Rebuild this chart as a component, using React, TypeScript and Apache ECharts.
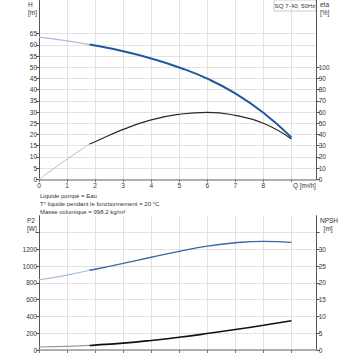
import React, { useEffect, useRef } from "react";
import * as echarts from "echarts";

const qValues = [0, 1, 1.8, 2, 3, 4, 5, 6, 7, 8, 9];
const headValues = [63.4, 61.8, 60.1, 59.7, 57.1, 53.9, 49.9, 44.9, 38.3, 29.7, 18.7];
const etaValues = [0, 18, 31.5, 33.5, 44.5, 53, 58, 59.8, 57, 50, 36];
const p2Values = [835, 893, 950, 962, 1032, 1105, 1175, 1238, 1278, 1295, 1283];
const npshValues = [0.9, 1.05, 1.35, 1.45, 2.05, 2.85, 3.8, 4.9, 6.1, 7.35, 8.7];
const SPLIT = 2; // index where curve turns from light to dark

const hTicks = [0, 5, 10, 15, 20, 25, 30, 35, 40, 45, 50, 55, 60, 65];
const etaTicks = [0, 10, 20, 30, 40, 50, 60, 70, 80, 90, 100];
const p2Ticks = [0, 200, 400, 600, 800, 1000, 1200, 1400];
const p2Labels = [0, 200, 400, 600, 800, 1000, 1200];
const npshTicks = [0, 5, 10, 15, 20, 25, 30, 35];
const npshLabels = [0, 5, 10, 15, 20, 25, 30];
const qLabels = [0, 1, 2, 3, 4, 5, 6, 7, 8];

const infoLines = [
  "Liquide pompé = Eau",
  "T° liquide pendant le fonctionnement = 20 °C",
  "Masse volumique = 998.2 kg/m³",
];

const FONT = "Liberation Sans, Arial, sans-serif";
const TXT = "#333";

function pairs(ys: number[], from: number, to: number) {
  const out: number[][] = [];
  for (let i = from; i <= to; i++) out.push([qValues[i], ys[i]]);
  return out;
}

export default function App() {
  const ref = useRef<HTMLDivElement>(null);
  useEffect(() => {
    if (!ref.current) return;
    const chart = echarts.init(ref.current, undefined, { renderer: "svg" });
    const last = qValues.length - 1;
    const xBase = (idx: number, showLabels: boolean) => ({
      type: "value",
      gridIndex: idx,
      min: 0,
      max: 9.9,
      interval: 1,
      axisLine: { show: true, onZero: false, lineStyle: { color: "#999", width: 1.5 } },
      axisTick: { show: true, length: 3, lineStyle: { color: "#777" }, customValues: [0, 1, 2, 3, 4, 5, 6, 7, 8, 9] },
      axisLabel: {
        show: showLabels,
        fontSize: 6.5,
        color: TXT,
        fontFamily: FONT,
        margin: 3,
        customValues: qLabels,
        formatter: (v: number) => (Number.isInteger(v) && v <= 8 ? String(v) : ""),
      },
      splitLine: { show: true, lineStyle: { color: "#e2e2e2", width: 1 } },
    });
    const yBase = (
      idx: number,
      pos: "left" | "right",
      max: number,
      interval: number,
      ticks: number[],
      labels: number[],
      split: boolean
    ) => ({
      type: "value",
      gridIndex: idx,
      position: pos,
      min: 0,
      max,
      interval,
      axisLine: { show: true, lineStyle: { color: "#555", width: 1 } },
      axisTick: { show: true, length: 3, lineStyle: { color: "#555" }, customValues: ticks },
      axisLabel: {
        fontSize: 6.5,
        color: TXT,
        fontFamily: FONT,
        margin: 2,
        customValues: labels,
        formatter: (v: number) => (labels.indexOf(v) >= 0 ? String(v) : ""),
      },
      splitLine: { show: split, lineStyle: { color: "#e2e2e2", width: 1 } },
    });

    const line = (
      xi: number,
      yi: number,
      data: number[][],
      color: string,
      width: number,
      z: number
    ) => ({
      type: "line",
      xAxisIndex: xi,
      yAxisIndex: yi,
      data,
      smooth: true,
      symbol: "none",
      z,
      lineStyle: { color, width },
    });

    const graphics: any[] = [
      { type: "text", left: 28, top: 0, style: { text: "H\n[m]", fontSize: 6.5, fill: TXT, fontFamily: FONT, align: "center", lineHeight: 8 } },
      { type: "text", left: 320, top: 0, style: { text: "eta\n[%]", fontSize: 6.5, fill: TXT, fontFamily: FONT, lineHeight: 8 } },
      { type: "text", left: 27, top: 216, style: { text: "P2\n[W]", fontSize: 6.5, fill: TXT, fontFamily: FONT, align: "center", lineHeight: 8 } },
      { type: "text", left: 320, top: 216, style: { text: "NPSH\n  [m]", fontSize: 6.5, fill: TXT, fontFamily: FONT, lineHeight: 8 } },
      { type: "text", x: 293, y: 185, style: { text: "Q [m³/h]", fontSize: 6.3, fill: TXT, fontFamily: FONT, verticalAlign: "middle" } },
      {
        type: "group",
        x: 274,
        y: 0,
        children: [
          { type: "rect", shape: { x: 0, y: 0, width: 42, height: 11 }, style: { fill: "#fff", stroke: "#ccc", lineWidth: 1 } },
          { type: "text", x: 21, y: 5.5, style: { text: "SQ 7-40, 50Hz", fontSize: 6.2, fill: TXT, fontFamily: FONT, align: "center", verticalAlign: "middle" } },
        ],
      },
    ];
    infoLines.forEach((t, i) => {
      graphics.push({
        type: "text",
        x: 40,
        y: 196 + i * 8,
        style: { text: t, fontSize: 6, fill: TXT, fontFamily: FONT, verticalAlign: "middle" },
      });
    });

    chart.setOption({
      animation: false,
      backgroundColor: "#fff",
      grid: [
        { left: 39, right: 43.3, top: 0, height: 179.3 },
        { left: 39, right: 43.3, top: 215.7, height: 134.3 },
      ],
      xAxis: [xBase(0, true), xBase(1, false)],
      yAxis: [
        yBase(0, "left", 80, 5, hTicks, hTicks, true),
        yBase(0, "right", 160, 10, etaTicks, etaTicks, false),
        yBase(1, "left", 1600, 200, p2Ticks, p2Labels, true),
        yBase(1, "right", 40, 5, npshTicks, npshLabels, false),
      ],
      graphic: graphics,
      series: [
        line(0, 0, pairs(headValues, 0, SPLIT), "#a8bdd6", 1.3, 3),
        line(0, 0, pairs(headValues, SPLIT, last), "#1f5b9c", 2, 4),
        line(0, 1, pairs(etaValues, 0, SPLIT), "#bbbbbb", 1, 3),
        line(0, 1, pairs(etaValues, SPLIT, last), "#2a2a2a", 1.2, 4),
        line(1, 2, pairs(p2Values, 0, SPLIT), "#a8bdd6", 1.2, 3),
        line(1, 2, pairs(p2Values, SPLIT, last), "#3569a3", 1.3, 4),
        line(1, 3, pairs(npshValues, 0, SPLIT), "#9a9a9a", 1.2, 3),
        line(1, 3, pairs(npshValues, SPLIT, last), "#111111", 1.6, 4),
      ],
    });
    return () => chart.dispose();
  }, []);
  return (
    <div
      ref={ref}
      style={{ position: "absolute", left: 0, top: 0, width: 360, height: 360 }}
    />
  );
}
